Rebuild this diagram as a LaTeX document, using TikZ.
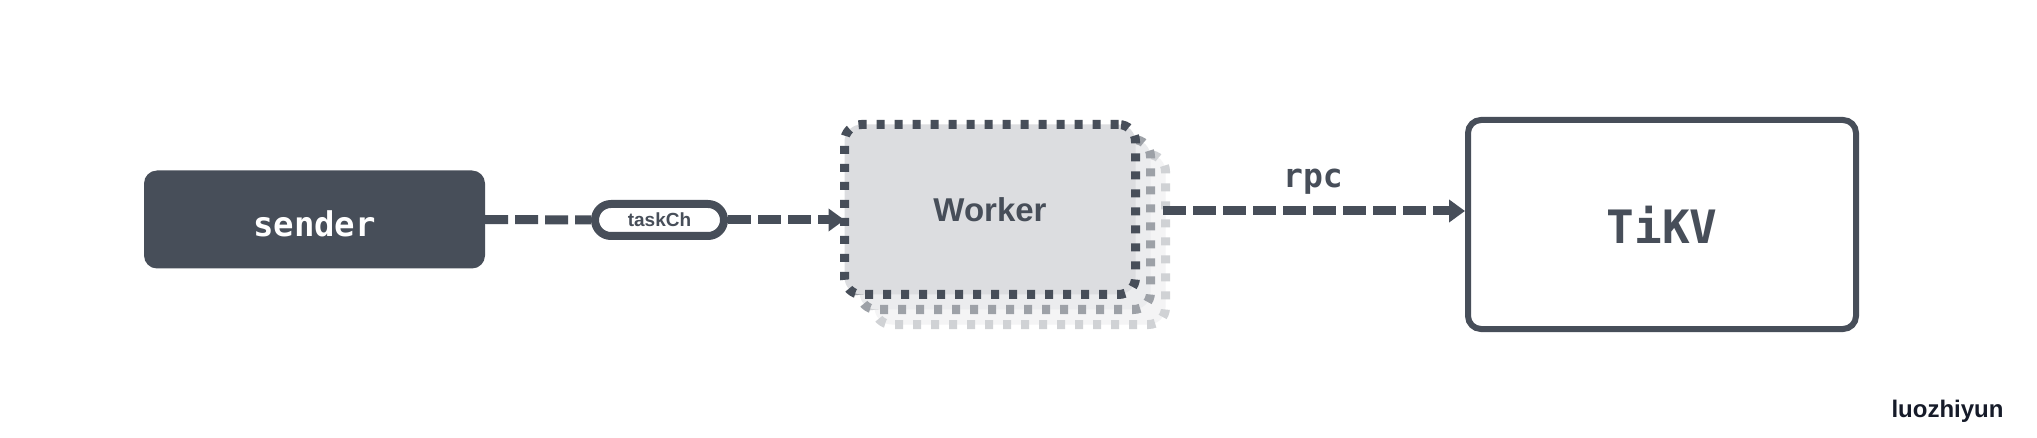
\documentclass[tikz,border=0pt]{standalone}
\usepackage{fontspec}
\setmainfont{Liberation Sans}
\newfontfamily\monofont{DejaVu Sans Mono}
\usetikzlibrary{arrows.meta,calc}
\definecolor{ink}{HTML}{474E59}
\definecolor{wfill}{HTML}{DCDDE0}
\definecolor{s2draw}{HTML}{9DA1A7}
\definecolor{s2fill}{HTML}{EBECEE}
\definecolor{s3draw}{HTML}{D0D2D5}
\definecolor{s3fill}{HTML}{F4F4F5}
\definecolor{sig}{HTML}{161B29}
\tikzset{
  senderbox/.style={rectangle, rounded corners=13pt, fill=ink, inner sep=0pt,
    minimum width=341pt, minimum height=98pt, text=white,
    text height=34pt, text depth=0pt,
    font=\monofont\bfseries\fontsize{34}{40}\selectfont},
  pillbox/.style={rectangle, rounded corners=16pt, fill=white, draw=ink, line width=8pt,
    inner sep=0pt, minimum width=129pt, minimum height=32pt, text=ink,
    font=\bfseries\fontsize{19}{22}\selectfont},
  workerbox/.style={rectangle, rounded corners=17pt, line width=9pt,
    dash pattern=on 8pt off 10pt, inner sep=0pt, outer sep=0pt,
    minimum width=291pt, minimum height=170pt},
  tikvbox/.style={rectangle, rounded corners=13pt, draw=ink, line width=6pt, fill=white,
    inner sep=0pt, minimum width=388pt, minimum height=209pt, text=ink,
    font=\monofont\bfseries\fontsize{46}{54}\selectfont},
  flow/.style={draw=ink, line width=9pt, dash pattern=on 23pt off 7pt,
    -{Triangle[length=16pt,width=22pt]}},
  plainflow/.style={draw=ink, line width=9pt, dash pattern=on 23pt off 7pt},
}
\begin{document}
\begin{tikzpicture}[x=1pt,y=-1pt]
\useasboundingbox (0,0) rectangle (2037,438);
\fill[white] (0,0) rectangle (2037,438);

% worker stack
\node[workerbox, draw=s3draw, fill=s3fill] (w3) at (1020,239.5) {};
\node[workerbox, draw=s2draw, fill=s2fill] (w2) at (1005,224.5) {};
\node[workerbox, draw=ink, fill=wfill, text=ink,
  font=\bfseries\fontsize{33}{36}\selectfont] (worker) at (990,209.5) {Worker};

\node[senderbox] (sender) at (314.5,219.5) {sender};
\node[pillbox] (pill) at (659.5,220) {taskCh};
\node[tikvbox] (tikv) at (1662,224.5) {TiKV};

% connectors
\draw[plainflow] (sender.east) -- (pill.west);
\draw[flow] (pill.east) -- (pill.east -| worker.west);
\coordinate (rpcstart) at (1163,211);
\draw[flow] (rpcstart) -- (rpcstart -| tikv.west);
\node[text=ink, font=\monofont\bfseries\fontsize{33}{40}\selectfont, anchor=base] (rpc) at (1313,188) {rpc};

\node[text=sig, font=\bfseries\fontsize{24}{28}\selectfont, anchor=base east] (sig) at (2007,417) {luozhiyun};
\end{tikzpicture}
\end{document}
